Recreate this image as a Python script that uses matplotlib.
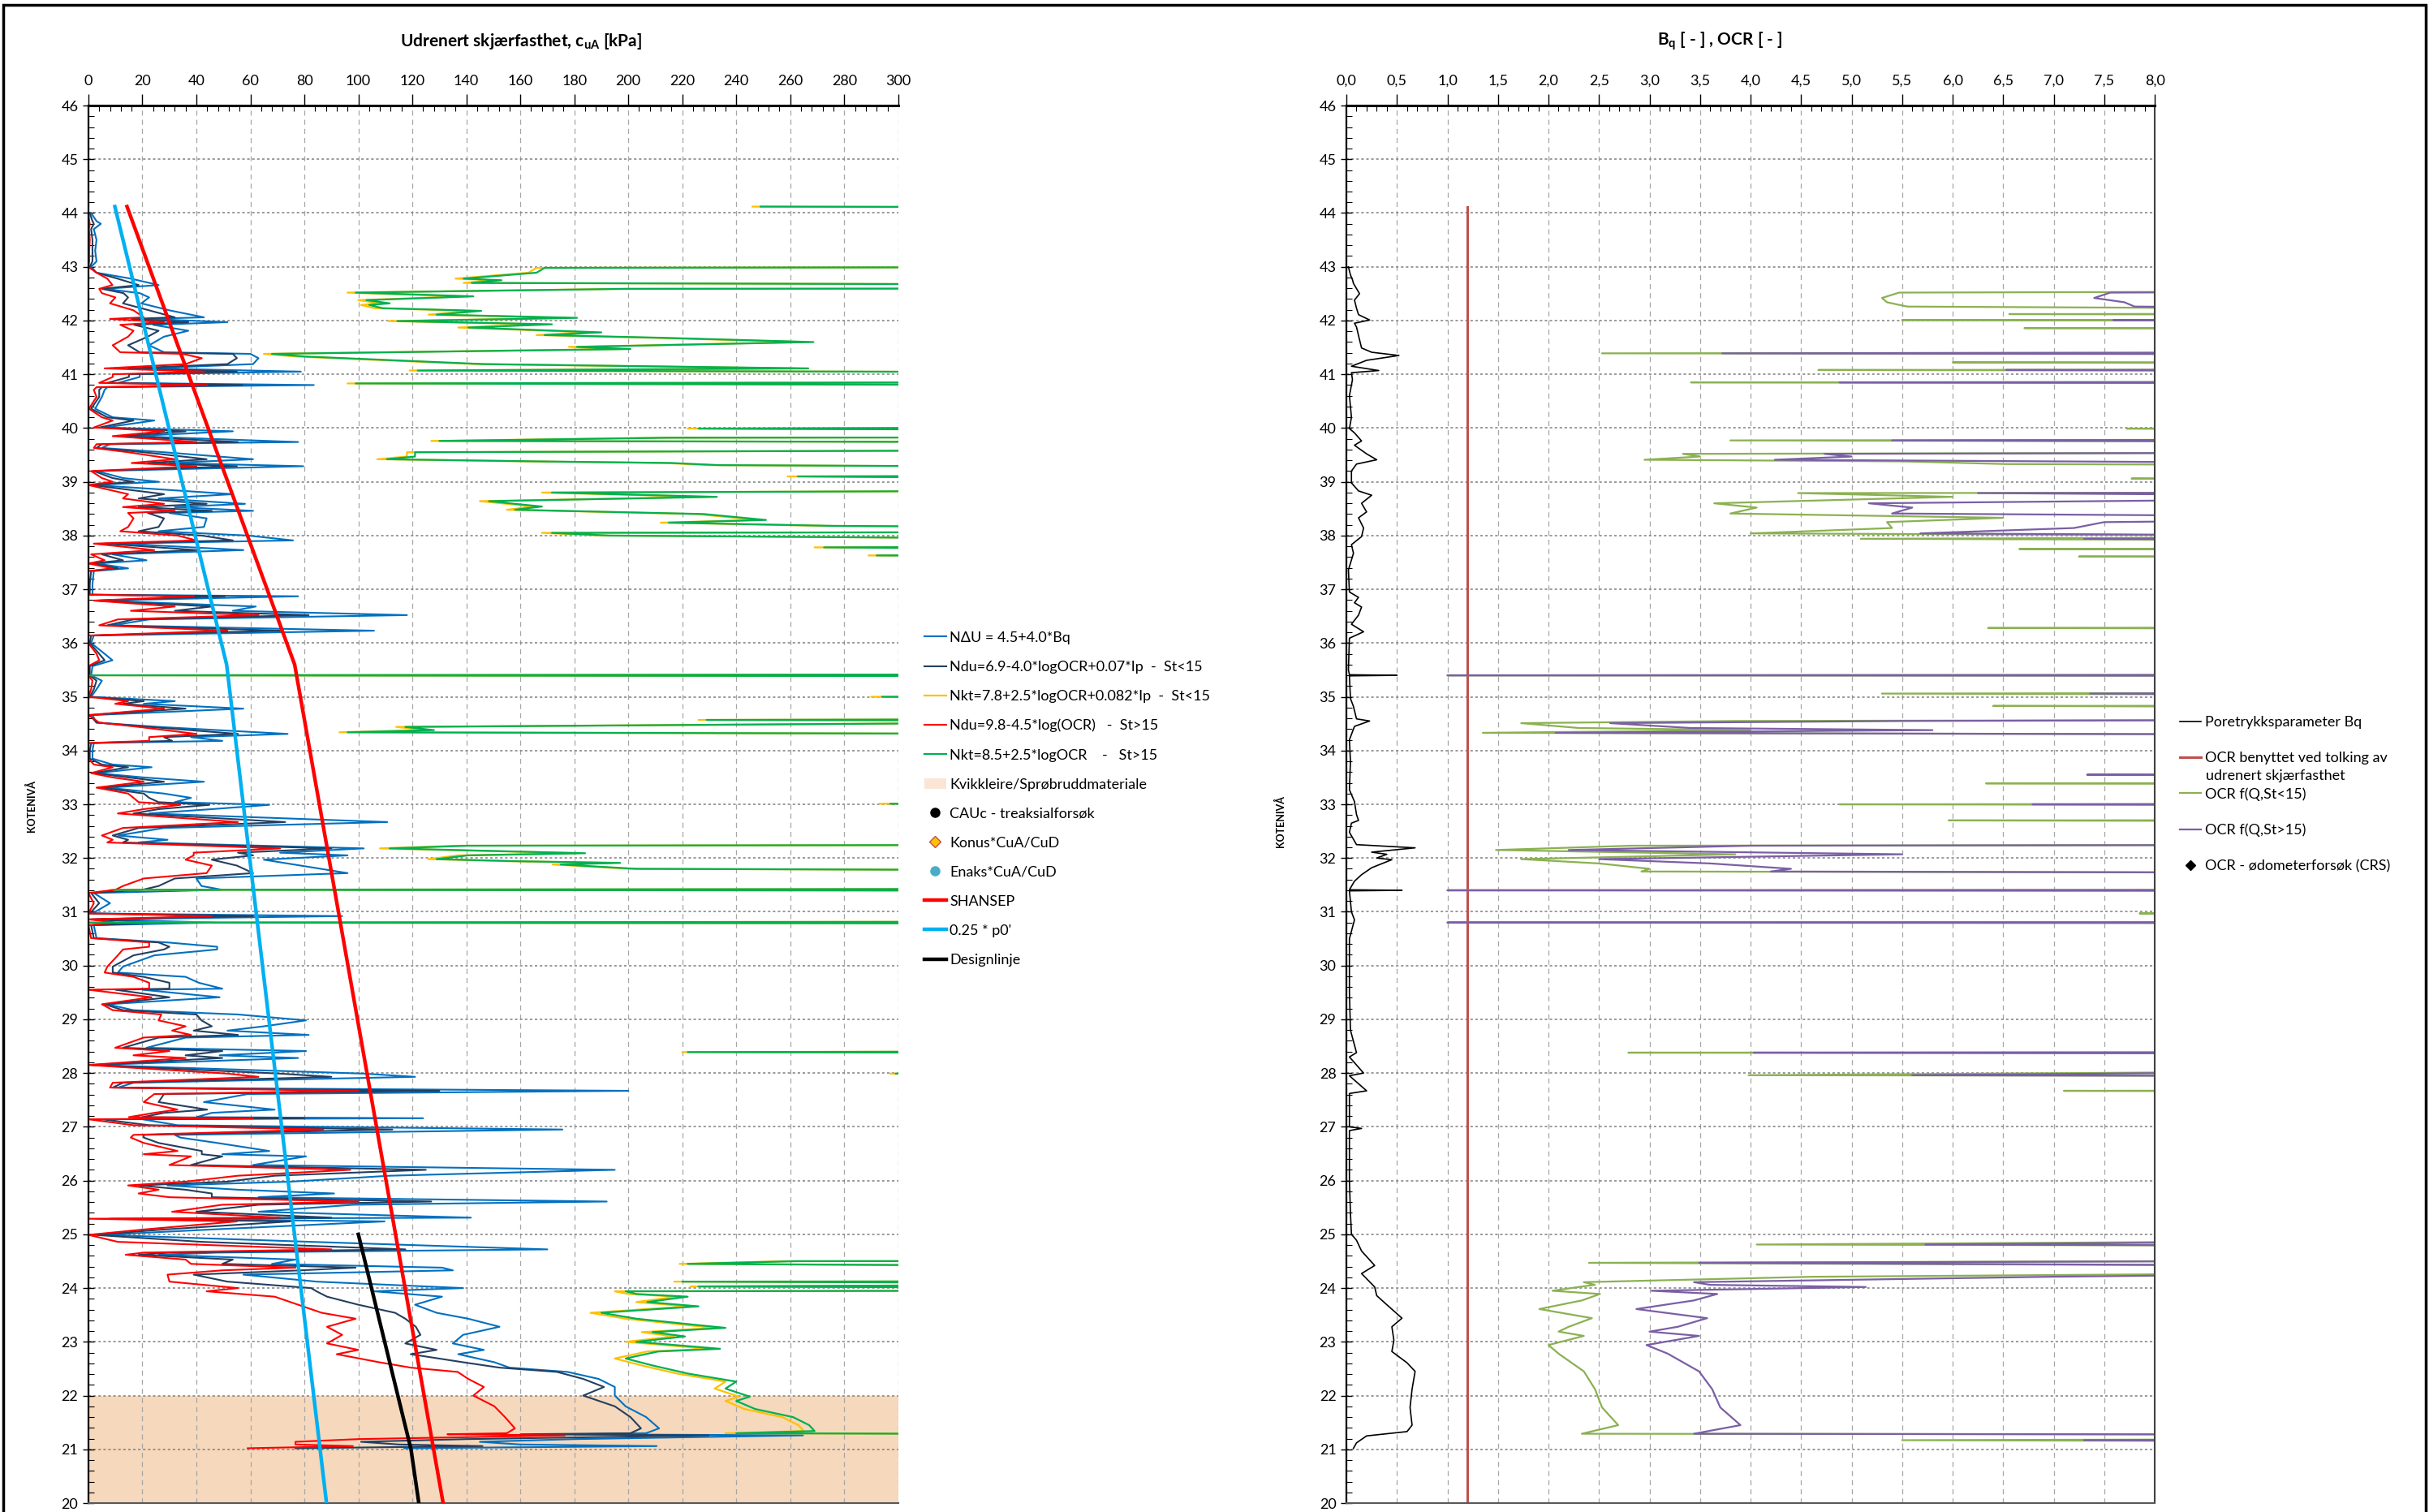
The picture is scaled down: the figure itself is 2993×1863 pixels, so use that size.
import numpy as np
import matplotlib
matplotlib.use("Agg")
import matplotlib.pyplot as plt
from matplotlib.ticker import MultipleLocator, FuncFormatter
from matplotlib.lines import Line2D
from matplotlib.patches import Patch, Rectangle

plt.rcParams['font.family'] = ['Lato', 'DejaVu Sans']
plt.rcParams['mathtext.fontset'] = 'custom'
plt.rcParams['mathtext.rm'] = 'Lato'
plt.rcParams['mathtext.bf'] = 'Lato:bold'
plt.rcParams['mathtext.it'] = 'Lato:italic'

# ---------------- left panel: cuA from CPT (kote, kPa) ----------------
kote_cu = [44.00, 43.85, 43.80, 43.70, 43.50, 43.30, 43.10, 43.00,
           42.89, 42.78, 42.66, 42.59, 42.51, 42.43, 42.32, 42.19,
           42.06, 42.03, 41.97, 41.92, 41.81, 41.70, 41.54, 41.41,
           41.38, 41.30, 41.19, 41.11, 41.05, 41.00, 40.95, 40.84,
           40.80, 40.76, 40.71, 40.58, 40.36, 40.20, 40.14, 40.01,
           39.94, 39.85, 39.74, 39.70, 39.63, 39.55, 39.42, 39.35,
           39.29, 39.20, 39.07, 39.00, 38.94, 38.77, 38.69, 38.59,
           38.53, 38.46, 38.42, 38.32, 38.16, 38.08, 38.00, 37.91,
           37.85, 37.73, 37.65, 37.54, 37.48, 37.39, 37.34, 37.10,
           36.90, 36.87, 36.79, 36.68, 36.60, 36.52, 36.44, 36.33,
           36.23, 36.14, 36.00, 35.80, 35.68, 35.57, 35.40, 35.30,
           35.14, 35.00, 34.92, 34.87, 34.78, 34.66, 34.52, 34.44,
           34.31, 34.25, 34.18, 34.14, 34.00, 33.85, 33.74, 33.69,
           33.58, 33.50, 33.42, 33.31, 33.20, 33.12, 33.04, 32.99,
           32.91, 32.83, 32.67, 32.56, 32.42, 32.34, 32.29, 32.18,
           32.10, 32.05, 31.97, 31.86, 31.72, 31.62, 31.48, 31.41,
           31.35, 31.16, 30.97, 30.92, 30.86, 30.80, 30.75, 30.51,
           30.43, 30.35, 30.30, 30.19, 29.98, 29.87, 29.79, 29.68,
           29.57, 29.55, 29.41, 29.28, 29.17, 29.09, 28.98, 28.87,
           28.79, 28.71, 28.66, 28.47, 28.41, 28.33, 28.28, 28.15,
           27.99, 27.93, 27.82, 27.73, 27.67, 27.61, 27.46, 27.32,
           27.26, 27.18, 27.16, 27.14, 27.03, 26.95, 26.85, 26.80,
           26.70, 26.55, 26.49, 26.45, 26.29, 26.20, 26.09, 25.98,
           25.91, 25.83, 25.76, 25.69, 25.61, 25.55, 25.42, 25.31,
           25.29, 25.24, 25.09, 24.99, 24.86, 24.72, 24.66, 24.62,
           24.53, 24.45, 24.38, 24.33, 24.25, 24.12, 24.00, 23.94,
           23.84, 23.69, 23.54, 23.43, 23.28, 23.13, 22.97, 22.85,
           22.77, 22.62, 22.52, 22.44, 22.31, 22.16, 22.00, 21.80,
           21.60, 21.39, 21.30, 21.28, 21.26, 21.19, 21.14, 21.09,
           21.06, 21.02]

# N_dU = 4.5 + 4.0*Bq
cu_ndu_bq = [1, 3, 4.6, 2, 3, 2.5, 3, 1,
             3, 15.7, 26, 6, 19, 22.5, 19.6, 30,
             42.8, 22, 51.5, 24, 37, 28, 22.5, 28,
             60, 63, 61, 22.5, 78.7, 19, 19, 11,
             83.5, 7, 6, 5, 2.5, 9, 24.4, 6,
             53.5, 16.7, 77.7, 8, 5, 28, 61, 30,
             79.6, 3, 12.8, 26, 2, 53.5, 26, 58,
             32, 61, 30, 43.8, 42.8, 26, 59, 75.8,
             12, 57.4, 9, 21.5, 3, 14.7, 2, 1.5,
             1.5, 77.7, 4, 62, 53.5, 118, 22.5, 9,
             105.8, 2, 1, 6, 8.9, 1.5, 1, 5,
             3, 1, 32, 20.5, 57.4, 1.5, 3, 26,
             73.8, 38, 49.6, 2, 1.5, 1.5, 9, 23.4,
             3, 20.5, 42.8, 7, 28, 38, 32, 67,
             45.7, 22.5, 110.7, 28, 11, 29.3, 18.6, 102,
             71, 96, 65, 78.7, 96, 40, 41.9, 49.6,
             2, 8, 1.5, 94, 3, 46.7, 2, 3,
             29.3, 47.7, 47.7, 24.4, 12.8, 10.9, 36, 40.9,
             49.6, 20, 48.6, 7, 16.7, 55.4, 80.6, 65,
             51.5, 81.6, 36, 21.5, 80.6, 48.6, 77.7, 2,
             102, 121, 16.7, 11, 200, 59, 42.8, 69,
             45.7, 40, 124, 20, 33, 175.6, 32, 34,
             47.7, 67, 49.6, 80.6, 61, 195, 111.6, 75,
             29.3, 55.4, 91, 63, 192, 98, 63, 141.7,
             20, 109.7, 45.7, 5, 82.5, 170, 47.7, 26,
             76.7, 68, 131, 135, 57.4, 84.5, 138.8, 105.8,
             131, 121, 129, 140.7, 152.3, 138.8, 135, 146.5,
             137, 150.4, 156, 177.5, 189, 195, 195, 199,
             206.6, 211.4, 206.6, 180, 264.7, 180, 145, 160,
             210.5, 117]

# Ndu = 6.9 - 4.0*logOCR + 0.07*Ip  (St<15)
cu_ndu_st_lo = [0.5, 1.5, 2, 1, 1.5, 1.5, 1.5, 0.5,
                3, 10.8, 18.6, 5, 13, 14.7, 12.8, 22.5,
                32, 16, 37, 17, 26, 22, 14.7, 19,
                53.5, 55, 51.5, 14.7, 55, 15, 15, 7,
                57, 5, 4, 4, 1, 7, 16.7, 4,
                36, 12.8, 55.4, 5, 3, 20.5, 43.8, 22,
                55, 2, 8.9, 16.7, 1, 28, 18.6, 43.8,
                18.6, 45.7, 22, 28, 26, 18.6, 41.9, 53.5,
                6, 40, 5, 12.8, 1, 11, 1, 0.5,
                0.5, 50.6, 3, 45.7, 32, 81.6, 16.7, 7,
                71, 1, 0.5, 4, 6, 0.5, 0.5, 3,
                2, 0.5, 20.5, 12.8, 36, 0.5, 3, 22.5,
                55.4, 28, 31, 1, 0.5, 0.5, 5, 14.7,
                2, 14.7, 28, 5, 20.5, 22.5, 26, 44.8,
                26, 16.7, 72.9, 18.6, 9, 14.7, 12.8, 90,
                55.4, 61, 45.7, 55, 61, 32, 26, 20,
                1, 4, 0.5, 61, 1, 25, 1, 2,
                26, 30, 28, 16.7, 9, 9, 20.5, 30,
                30, 10, 30, 6, 12.8, 40, 41.9, 45.7,
                39, 55.4, 26, 12.8, 49.6, 36, 49.6, 1,
                71, 90, 12.8, 9, 130, 28, 26, 44,
                28, 20, 80, 5, 22.5, 112.6, 20.5, 20.5,
                26, 42, 42, 49.6, 38, 125, 69, 51.5,
                18.6, 36, 45.7, 45.7, 127, 63, 40, 90,
                8, 74.8, 28, 2, 42, 117.4, 30, 18.6,
                53.5, 49.6, 99, 78.7, 39, 51.5, 82.5, 84.5,
                88.4, 100, 113.6, 117.4, 121.3, 123, 117.4, 129,
                119.4, 138.8, 152.3, 173.6, 183.3, 191, 183.3, 195,
                200.8, 204.7, 200.8, 160, 229.8, 140, 101, 115,
                146, 76.7]

# Ndu = 9.8 - 4.5*log(OCR)  (St>15)
cu_ndu_st_hi = [0, 0.3, 0.5, 0.2, 0.5, 0.3, 0.3, 0,
                3, 7, 8.9, 4, 5, 10, 8, 16.7,
                20.5, 8, 28, 11.8, 16.7, 14.7, 9, 11.8,
                35, 42, 36, 6, 43, 9, 9, 4,
                44, 3, 2, 3, 0.2, 5, 9, 2,
                28, 9, 40, 3, 2, 14.7, 32, 16,
                40, 1, 5, 9, 0, 14.7, 12.8, 28,
                12.8, 32, 14.7, 16.7, 14.7, 11.8, 33, 40,
                2, 24.4, 1, 6, 0, 9, 0, 0,
                0, 39, 2, 32, 15.7, 63, 10.9, 4,
                51.5, 0, 0, 3, 4, 0, 0, 1.5,
                1, 0, 14.7, 9.9, 28, 0, 4, 18.6,
                40, 22.5, 22.5, 0, 0, 0, 2, 9,
                1, 9, 20.5, 3, 14.7, 16.7, 18.6, 34,
                20.5, 10.9, 55.4, 12.8, 5, 9, 7, 71,
                39, 39, 36, 45.7, 43.8, 20.5, 12.8, 10,
                0, 2, 0, 45.7, 0, 10, 0, 1,
                22.5, 22.5, 12.8, 10.9, 7, 6, 16.7, 22.5,
                22.5, 0, 23.4, 5, 9, 27, 26, 36,
                31, 38, 20.5, 9.9, 30, 16.7, 36, 0,
                51.5, 63, 9, 8, 100, 24.4, 20.5, 33,
                24.4, 15, 61, 0, 16.7, 87, 16.7, 15.7,
                20.5, 33, 20.5, 38, 30, 97, 55.4, 36,
                14.7, 26, 18.6, 30, 100, 49.6, 31, 71,
                0, 55, 20.5, 0, 10.9, 90, 20.5, 13.8,
                36, 38, 76.7, 49.6, 29.3, 30, 55.4, 43.8,
                69, 77.7, 86.4, 99, 88.4, 94, 88.4, 100,
                92, 107.7, 119.4, 136.8, 140.7, 146.5, 142.6, 150.4,
                154.3, 158, 155, 133, 176.5, 100, 76.7, 76.7,
                98, 59]

# Nkt curves (values beyond 300 run off the axis)
kote_nkt = [44.12, 44.10, 43.00, 42.98, 42.89, 42.78, 42.75, 42.70,
            42.66, 42.60, 42.59, 42.52, 42.45, 42.38, 42.32, 42.29,
            42.23, 42.18, 42.11, 42.05, 41.99, 41.93, 41.87, 41.78,
            41.73, 41.68, 41.60, 41.51, 41.47, 41.38, 41.33, 41.19,
            41.11, 41.07, 41.03, 40.86, 40.83, 40.79, 40.02, 39.99,
            39.95, 39.83, 39.82, 39.76, 39.73, 39.60, 39.55, 39.47,
            39.42, 39.38, 39.35, 39.31, 39.26, 39.12, 39.10, 39.04,
            38.85, 38.80, 38.72, 38.64, 38.59, 38.54, 38.48, 38.40,
            38.29, 38.24, 38.18, 38.13, 38.07, 38.05, 38.00, 37.91,
            37.80, 37.78, 37.72, 37.65, 37.63, 37.60, 35.42, 35.40,
            35.38, 35.02, 35.00, 34.97, 34.59, 34.57, 34.55, 34.50,
            34.44, 34.38, 34.34, 34.30, 33.03, 33.01, 32.99, 32.25,
            32.23, 32.18, 32.09, 32.05, 31.98, 31.94, 31.91, 31.88,
            31.80, 31.76, 31.43, 31.41, 31.39, 30.82, 30.80, 30.78,
            28.41, 28.39, 28.37, 28.01, 27.99, 27.97, 24.51, 24.50,
            24.45, 24.39, 24.13, 24.12, 24.08, 24.03, 23.99, 23.96,
            23.94, 23.89, 23.84, 23.74, 23.66, 23.54, 23.43, 23.31,
            23.26, 23.18, 23.10, 23.00, 22.87, 22.82, 22.69, 22.56,
            22.41, 22.26, 22.13, 21.98, 21.90, 21.75, 21.60, 21.45,
            21.34, 21.30, 21.27]

cu_nkt_st_lo = [246, 450, 450, 166, 163, 136, 150, 139,
                450, 450, 197, 96, 139, 100, 108, 101,
                106, 142, 126, 178, 111, 168, 137, 186,
                166, 208, 265, 178, 197, 65, 77, 143,
                263, 119, 450, 450, 96, 450, 450, 222,
                450, 450, 212, 127, 450, 450, 118, 118,
                107, 163, 213, 230, 450, 450, 259, 450,
                450, 168, 229, 145, 155, 165, 155, 225,
                248, 212, 273, 450, 450, 168, 190, 450,
                450, 269, 450, 450, 289, 450, 450, 0,
                450, 450, 290, 450, 450, 226, 450, 289,
                114, 125, 93, 450, 450, 293, 450, 450,
                137, 108, 181, 137, 126, 157, 194, 172,
                200, 450, 450, 8, 450, 450, 0, 450,
                450, 220, 450, 450, 297, 450, 450, 258,
                219, 450, 450, 217, 450, 223, 450, 450,
                195, 200, 218, 203, 222, 186, 199, 222,
                232, 205, 217, 199, 230, 207, 195, 205,
                218, 236, 232, 241, 236, 243, 257, 263,
                265, 236, 450]

cu_nkt_st_hi = [249, 450, 450, 169, 166, 139, 153, 142,
                450, 450, 200, 99, 142.6, 103, 111.6, 104,
                109, 145.5, 129, 181, 114.5, 171.7, 140.7, 190,
                169, 212, 268.6, 181, 200.8, 68, 80.6, 146.5,
                266.7, 122, 450, 450, 99, 450, 450, 226,
                450, 450, 215, 130, 450, 450, 121, 121,
                110.6, 166, 216, 233.7, 450, 450, 262.8, 450,
                450, 171.7, 232.8, 148.4, 158, 168, 158, 228,
                251, 215, 276, 450, 450, 171.7, 193, 450,
                450, 272.5, 450, 450, 292, 450, 450, 0,
                450, 450, 294, 450, 450, 229, 450, 292,
                117.4, 128, 96, 450, 450, 297, 450, 450,
                140.7, 111.6, 184, 140.7, 129, 160, 197, 175,
                203, 450, 450, 9.9, 450, 450, 0, 450,
                450, 222, 450, 450, 299, 450, 450, 262,
                222, 450, 450, 220, 450, 226, 450, 450,
                199, 203, 222, 207, 226, 190, 203, 226,
                236, 209, 221, 203, 234, 211, 199, 209,
                222, 240, 236, 245, 240, 247, 261, 267,
                269, 240, 450]

# trend lines
kote_shansep = [44.12, 35.6, 20.0]
cu_shansep = [14.3, 76.4, 131.4]
kote_p0 = [44.12, 35.6, 20.0]
cu_p0 = [9.8, 51.2, 88.2]
kote_design = [25.0, 21.0, 20.0]
cu_design = [100.0, 119.5, 122.4]
kvikkleire = (20.0, 22.0)

# ---------------- right panel: Bq and OCR ----------------
kote_bq = [43.00, 42.85, 42.76, 42.69, 42.50, 42.38, 42.23, 42.11,
           42.01, 41.95, 41.88, 41.72, 41.49, 41.41, 41.35, 41.26,
           41.15, 41.07, 41.03, 40.90, 40.60, 40.20, 39.99, 39.91,
           39.76, 39.68, 39.52, 39.41, 39.33, 39.20, 38.98, 38.83,
           38.75, 38.60, 38.44, 38.33, 38.14, 37.98, 37.83, 37.67,
           37.36, 36.95, 36.85, 36.75, 36.67, 36.52, 36.35, 36.21,
           36.09, 35.50, 35.41, 35.40, 35.39, 34.97, 34.82, 34.59,
           34.55, 34.45, 34.20, 33.80, 33.27, 33.05, 32.81, 32.70,
           32.65, 32.48, 32.25, 32.19, 32.11, 32.07, 32.00, 31.97,
           31.82, 31.69, 31.57, 31.41, 31.40, 31.39, 31.00, 30.85,
           30.50, 29.50, 28.80, 28.38, 28.30, 28.00, 27.95, 27.67,
           27.62, 27.00, 26.97, 26.93, 26.00, 25.40, 25.00, 24.89,
           24.69, 24.42, 24.27, 24.02, 23.86, 23.69, 23.44, 23.28,
           23.03, 22.82, 22.61, 22.45, 22.12, 21.78, 21.45, 21.33,
           21.25, 21.12, 21.02]
bq = [0.02, 0.04, 0.06, 0.07, 0.13, 0.08, 0.10, 0.12,
      0.23, 0.08, 0.10, 0.12, 0.15, 0.25, 0.52, 0.20,
      0.05, 0.32, 0.05, 0.06, 0.03, 0.05, 0.03, 0.08,
      0.15, 0.08, 0.20, 0.30, 0.10, 0.05, 0.05, 0.12,
      0.25, 0.15, 0.20, 0.12, 0.17, 0.15, 0.05, 0.07,
      0.02, 0.03, 0.12, 0.08, 0.15, 0.12, 0.05, 0.17,
      0.03, 0.02, 0.03, 0.50, 0.03, 0.04, 0.07, 0.10,
      0.23, 0.08, 0.03, 0.04, 0.03, 0.08, 0.10, 0.12,
      0.05, 0.03, 0.10, 0.68, 0.25, 0.40, 0.30, 0.45,
      0.25, 0.15, 0.08, 0.03, 0.55, 0.03, 0.05, 0.08,
      0.03, 0.03, 0.04, 0.10, 0.03, 0.17, 0.03, 0.20,
      0.03, 0.03, 0.15, 0.03, 0.03, 0.04, 0.05, 0.10,
      0.15, 0.28, 0.15, 0.28, 0.30, 0.40, 0.55, 0.45,
      0.47, 0.45, 0.60, 0.68, 0.65, 0.63, 0.65, 0.60,
      0.20, 0.10, 0.07]

kote_ocr_used = [44.12, 20.0]
ocr_used = [1.2, 1.2]

kote_ocr = [43.00, 42.55, 42.52, 42.42, 42.34, 42.26, 42.20, 42.13,
            42.12, 42.10, 42.02, 42.01, 41.99, 41.87, 41.86, 41.84,
            41.41, 41.39, 41.37, 41.23, 41.22, 41.20, 41.09, 41.08,
            41.06, 40.86, 40.85, 40.83, 40.00, 39.99, 39.97, 39.79,
            39.77, 39.74, 39.55, 39.52, 39.47, 39.41, 39.38, 39.33,
            39.30, 39.07, 39.06, 39.04, 38.80, 38.79, 38.72, 38.60,
            38.52, 38.41, 38.33, 38.25, 38.14, 38.04, 37.98, 37.94,
            37.90, 37.76, 37.75, 37.73, 37.62, 37.61, 37.59, 36.30,
            36.28, 36.26, 35.41, 35.40, 35.39, 35.08, 35.06, 35.03,
            34.84, 34.83, 34.80, 34.58, 34.55, 34.51, 34.42, 34.38,
            34.33, 34.29, 33.56, 33.55, 33.53, 33.40, 33.39, 33.37,
            33.01, 33.00, 32.98, 32.71, 32.70, 32.68, 32.25, 32.23,
            32.15, 32.07, 31.98, 31.90, 31.80, 31.75, 31.72, 31.41,
            31.40, 31.39, 30.98, 30.97, 30.95, 30.81, 30.80, 30.79,
            28.39, 28.38, 28.36, 28.06, 27.96, 27.94, 27.68, 27.67,
            27.65, 24.90, 24.81, 24.78, 24.52, 24.47, 24.40, 24.31,
            24.21, 24.11, 24.06, 24.02, 23.95, 23.89, 23.77, 23.61,
            23.44, 23.28, 23.19, 23.11, 22.94, 22.78, 22.45, 22.12,
            21.78, 21.45, 21.29, 21.27, 21.20, 21.17, 21.14]

ocr_st_lo = [12, 12, 5.47, 5.3, 5.35, 5.55, 12, 12,
             6.56, 12, 12, 5.5, 12, 12, 6.71, 12,
             12, 2.53, 12, 12, 6.0, 12, 12, 4.67,
             12, 12, 3.41, 12, 12, 7.72, 12, 12,
             3.8, 12, 12, 3.33, 3.5, 2.95, 5.5, 6.53,
             12, 12, 7.77, 12, 12, 4.47, 6.0, 3.64,
             4.06, 3.8, 6.5, 5.35, 5.4, 4.0, 12, 5.09,
             12, 12, 6.66, 12, 12, 7.25, 12, 12,
             6.35, 12, 12, 1.0, 12, 12, 5.3, 12,
             12, 6.4, 12, 12, 3.85, 1.73, 2.3, 4.0,
             1.35, 12, 12, 12, 12, 12, 6.33, 12,
             12, 4.88, 12, 12, 5.96, 12, 12, 2.82,
             1.48, 3.85, 1.73, 2.5, 3.0, 2.92, 12, 12,
             1.0, 12, 12, 7.85, 12, 12, 1.0, 12,
             12, 2.79, 12, 12, 3.98, 12, 12, 7.1,
             12, 12, 4.06, 12, 12, 2.4, 12, 12,
             4.6, 2.35, 2.46, 2.3, 2.04, 2.51, 2.33, 1.91,
             2.43, 2.2, 2.1, 2.35, 2.0, 2.1, 2.35, 2.46,
             2.53, 2.69, 2.33, 12, 12, 5.5, 12]

ocr_st_hi = [12, 12, 7.56, 7.4, 7.7, 7.8, 12, 12,
             12, 12, 12, 7.59, 12, 12, 12, 12,
             12, 3.72, 12, 12, 12, 12, 12, 6.53,
             12, 12, 4.88, 12, 12, 12, 12, 12,
             5.4, 12, 12, 4.73, 5.0, 4.24, 7.0, 12,
             12, 12, 12, 12, 12, 6.25, 12, 5.17,
             5.6, 5.4, 12, 7.5, 7.2, 5.68, 12, 7.3,
             12, 12, 12, 12, 12, 12, 12, 12,
             12, 12, 12, 1.0, 12, 12, 7.36, 12,
             12, 12, 12, 12, 5.5, 2.61, 3.4, 5.8,
             2.07, 12, 12, 7.33, 12, 12, 12, 12,
             12, 6.79, 12, 12, 12, 12, 12, 4.0,
             2.2, 5.5, 2.5, 3.6, 4.4, 4.2, 12, 12,
             1.0, 12, 12, 12, 12, 12, 1.0, 12,
             12, 4.03, 12, 12, 5.6, 12, 12, 12,
             12, 12, 5.73, 12, 12, 3.49, 12, 12,
             6.95, 3.44, 3.6, 5.14, 3.02, 3.67, 3.44, 2.87,
             3.57, 3.28, 3.0, 3.49, 2.97, 3.18, 3.49, 3.62,
             3.7, 3.9, 3.44, 12, 12, 7.3, 12]

# ---------------- figure ----------------
fig = plt.figure(figsize=(29.93, 18.63), dpi=100)
fig.patch.set_facecolor('white')
fig.patches.append(Rectangle((0.0013, -0.05), 0.9974, 1.0468, transform=fig.transFigure,
                             fill=False, edgecolor='black', linewidth=2.5))

ax1 = fig.add_axes([0.0364, 0.0059, 0.3334, 0.9243])
ax2 = fig.add_axes([0.5543, 0.0059, 0.3328, 0.9243])


def style(ax, xmax, xmajor, xminor):
    ax.set_ylim(20, 46)
    ax.set_xlim(0, xmax)
    ax.xaxis.tick_top()
    ax.xaxis.set_major_locator(MultipleLocator(xmajor))
    ax.xaxis.set_minor_locator(MultipleLocator(xminor))
    ax.yaxis.set_major_locator(MultipleLocator(1))
    ax.yaxis.set_minor_locator(MultipleLocator(0.2))
    ax.tick_params(axis='x', which='major', direction='out', length=10, width=1,
                   labelsize=13, pad=6)
    ax.tick_params(axis='x', which='minor', direction='in', length=5, width=0.8)
    ax.tick_params(axis='y', which='major', direction='inout', length=10, width=1,
                   labelsize=13, pad=4)
    ax.tick_params(axis='y', which='minor', direction='in', length=5, width=0.8)
    ax.set_axisbelow(True)
    ax.grid(axis='x', which='major', linestyle=(0, (5, 4)), color='#A6A6A6', linewidth=0.9)
    ax.grid(axis='y', which='major', linestyle=(0, (2, 2)), color='#7F7F7F', linewidth=1.1)
    ax.spines['top'].set_linewidth(2.2)
    ax.spines['left'].set_linewidth(1.6)
    ax.spines['bottom'].set_color('#595959')
    ax.spines['bottom'].set_linewidth(1.5)


style(ax1, 300, 20, 4)
style(ax2, 8, 0.5, 0.1)
ax1.spines['right'].set_visible(False)
ax2.spines['right'].set_color('#404040')
ax2.spines['right'].set_linewidth(1.5)
ax2.xaxis.set_major_formatter(FuncFormatter(lambda v, p: f"{v:.1f}".replace('.', ',')))

# left panel
ax1.axhspan(kvikkleire[0], kvikkleire[1], color='#F6D8BC', zorder=0.2, lw=0)
l_bq, = ax1.plot(cu_ndu_bq, kote_cu, color='#0070C0', lw=1.5, zorder=2)
l_lo, = ax1.plot(cu_ndu_st_lo, kote_cu, color='#243F60', lw=1.5, zorder=2.1)
l_nk1, = ax1.plot(cu_nkt_st_lo, kote_nkt, color='#FFC000', lw=1.6, zorder=2.2)
l_hi, = ax1.plot(cu_ndu_st_hi, kote_cu, color='#FF0000', lw=1.5, zorder=2.3)
l_nk2, = ax1.plot(cu_nkt_st_hi, kote_nkt, color='#00B050', lw=1.6, zorder=2.4)
l_sh, = ax1.plot(cu_shansep, kote_shansep, color='#FF0000', lw=3.2, zorder=3)
l_p0, = ax1.plot(cu_p0, kote_p0, color='#00B0F0', lw=3.2, zorder=3)
l_de, = ax1.plot(cu_design, kote_design, color='black', lw=3.2, zorder=3.1)

# right panel
r_bq, = ax2.plot(bq, kote_bq, color='black', lw=1.2, zorder=3)
r_used, = ax2.plot(ocr_used, kote_ocr_used, color='#C0504D', lw=2.2, zorder=2)
r_lo, = ax2.plot(ocr_st_lo, kote_ocr, color='#8BB152', lw=1.6, zorder=2.2)
r_hi, = ax2.plot(ocr_st_hi, kote_ocr, color='#7A5FA5', lw=1.6, zorder=2.3)

# titles and axis labels
fig.text(0.2145, 0.9725, r"Udrenert skjærfasthet, $\mathbf{c_{uA}}$ [kPa]", ha='center',
         va='center', fontsize=15, fontweight='bold')
fig.text(0.708, 0.9725, r"$\mathbf{B_q}$ [ - ] , OCR [ - ]", ha='center', va='center',
         fontsize=15, fontweight='bold')
fig.text(0.0127, 0.467, 'KOTENIVÅ', rotation=90, ha='center', va='center',
         fontsize=9, fontweight='bold')
fig.text(0.527, 0.457, 'KOTENIVÅ', rotation=90, ha='center', va='center',
         fontsize=9, fontweight='bold')

# legends
h_left = [l_bq, l_lo, l_nk1, l_hi, l_nk2,
          Patch(facecolor='#FBE5D6', edgecolor='none'),
          Line2D([], [], ls='none', marker='o', color='black', markersize=8),
          Line2D([], [], ls='none', marker='D', markerfacecolor='#FFC000',
                 markeredgecolor='#C0504D', markersize=7),
          Line2D([], [], ls='none', marker='o', color='#4BACC6', markersize=8),
          l_sh, l_p0, l_de]
lab_left = ['NΔU = 4.5+4.0*Bq',
            'Ndu=6.9-4.0*logOCR+0.07*Ip  -  St<15',
            'Nkt=7.8+2.5*logOCR+0.082*Ip  -  St<15',
            'Ndu=9.8-4.5*log(OCR)   -  St>15',
            'Nkt=8.5+2.5*logOCR    -   St>15',
            'Kvikkleire/Sprøbruddmateriale',
            'CAUc - treaksialforsøk',
            'Konus*CuA/CuD',
            'Enaks*CuA/CuD',
            'SHANSEP', '0.25 * p0\'', 'Designlinje']
fig.legend(h_left, lab_left, loc='upper left', bbox_to_anchor=(0.3805, 0.5825),
           frameon=False, fontsize=13, handlelength=1.5, handletextpad=0.25,
           labelspacing=1.11, borderpad=0, borderaxespad=0)

h_right = [r_bq, r_used, r_lo, r_hi,
           Line2D([], [], ls='none', marker='D', color='black', markersize=6)]
lab_right = ['Poretrykksparameter Bq',
             'OCR benyttet ved tolking av',
             'OCR f(Q,St<15)', 'OCR f(Q,St>15)',
             'OCR - ødometerforsøk (CRS)']
leg_r = fig.legend(h_right, lab_right, loc='upper left', bbox_to_anchor=(0.8975, 0.5265),
                   frameon=False, fontsize=13, handlelength=1.45, handletextpad=0.25,
                   labelspacing=1.55, borderpad=0, borderaxespad=0)
fig.text(0.9082, 0.4866, 'udrenert skjærfasthet', ha='left', va='center', fontsize=13)

fig.savefig('out.png', dpi=100)
